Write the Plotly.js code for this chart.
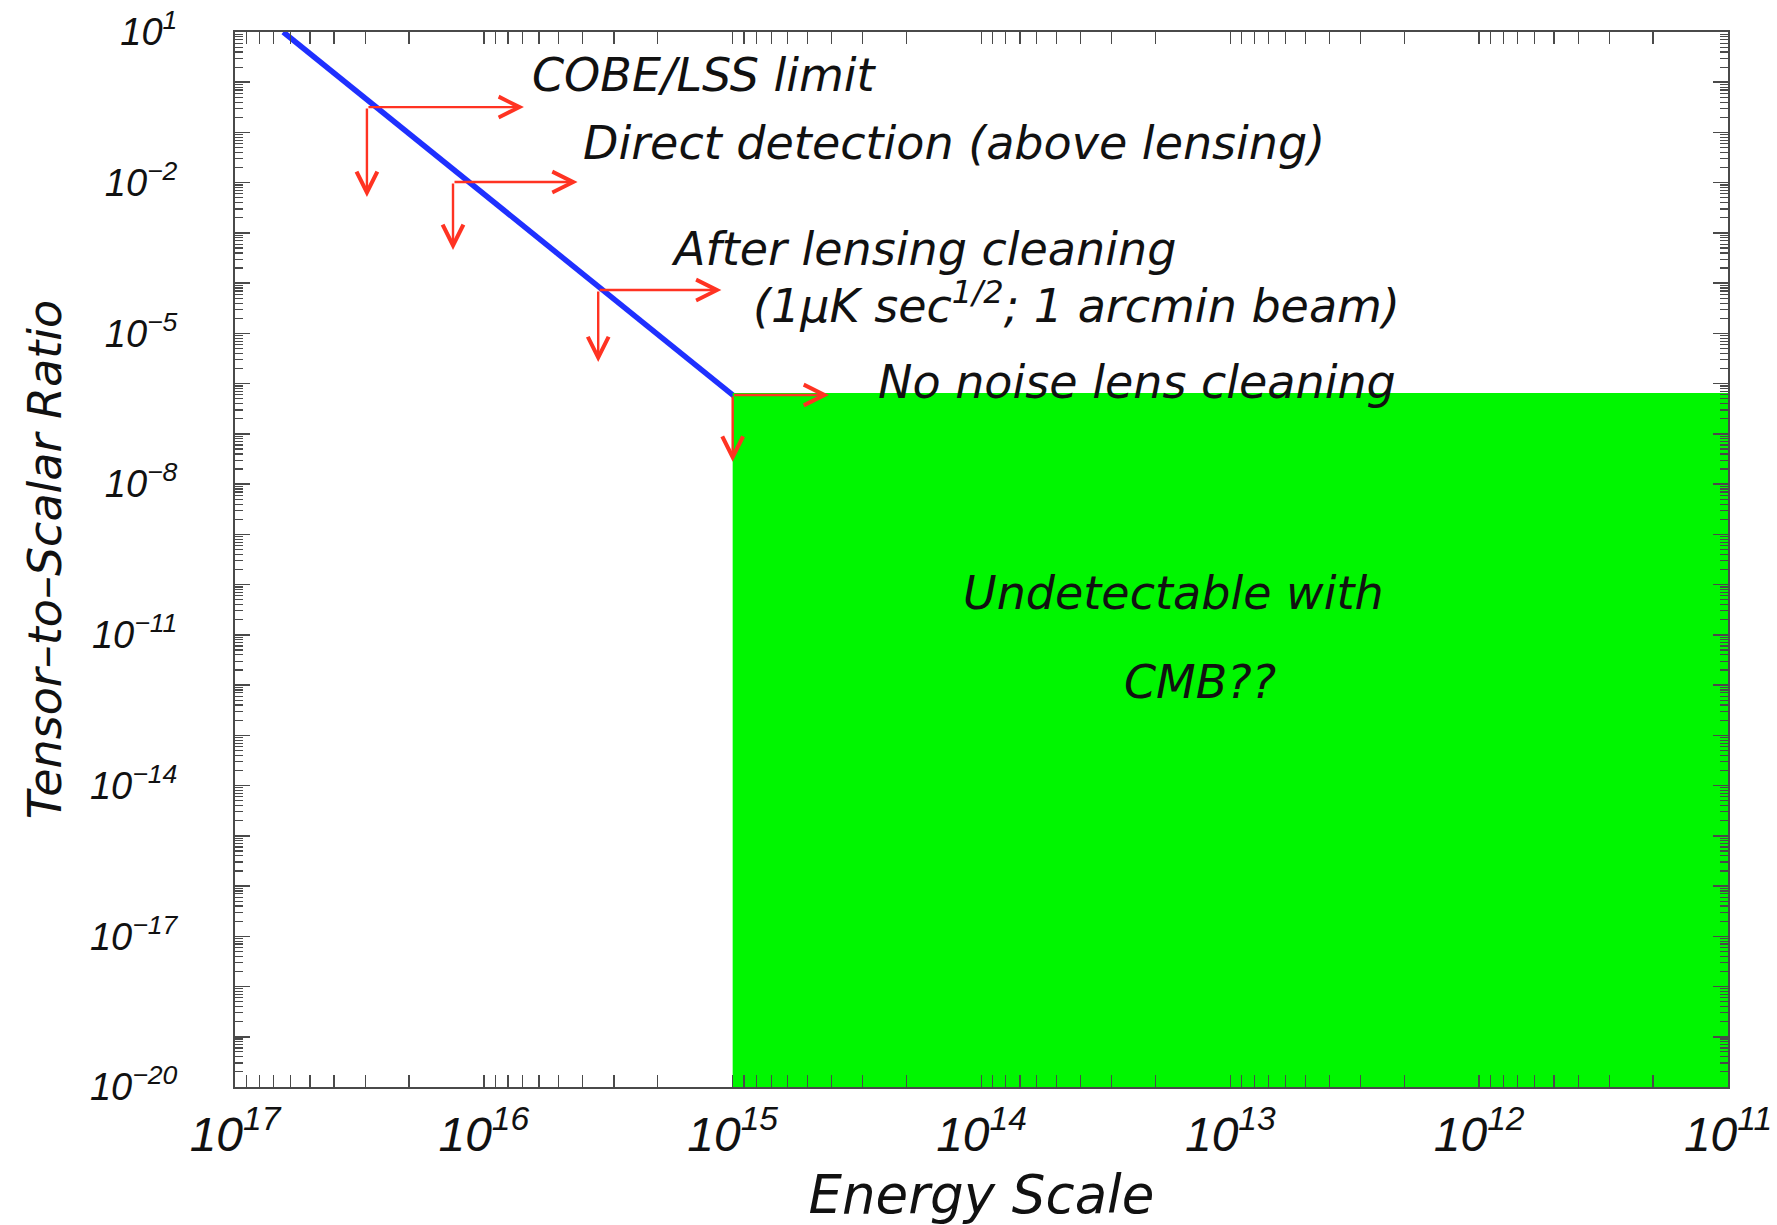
<!DOCTYPE html>
<html>
<head>
<meta charset="utf-8">
<script src="https://cdn.plot.ly/plotly-3.0.1.min.js"></script>
<style>html,body{margin:0;padding:0;background:#fff;}#chart{width:1777px;height:1225px;}</style>
</head>
<body>
<div id="chart"></div>
<script>
// ---- data ----
// tensor-to-scalar ratio line (r proportional to E^4)
const lineEnergy = [6.4e16, 1e15, 3.6e11];
const lineRatio  = [10, 5.96e-7, 1e-20];

// "undetectable with CMB" region
const regionEnergy = [1e15, 1e11, 1e11, 1e15];
const regionRatio  = [1e-20, 1e-20, 6.5e-7, 6.5e-7];

// arrow markers: corner point, tip of the right arrow, tip of the down arrow
const arrowCornerEnergy = [2.95e16, 1.33e16, 3.47e15, 1e15];
const arrowCornerRatio  = [0.32, 1.03e-2, 7.3e-5, 5.96e-7];
const arrowRightEnergy  = [6.9e15, 4.2e15, 1.11e15, 4.1e14];
const arrowDownRatio    = [5.2e-3, 4.6e-4, 2.7e-6, 2.8e-8];

// text labels
const labelTexts = [
  "COBE/LSS limit",
  "Direct detection (above lensing)",
  "After lensing cleaning",
  "(1μK sec<sup>1/2</sup>; 1 arcmin beam)",
  "No noise lens cleaning",
  "Undetectable with",
  "CMB??"
];

// axis ticks
const xTickExponents = [17, 16, 15, 14, 13, 12, 11];
const yLabelExponents = [1, -2, -5, -8, -11, -14, -17, -20];

// ---- placement of the text labels (log10 data coordinates) ----
const labelPlacement = [
  {lx: 15.814, ly: 0.144},
  {lx: 15.609, ly: -1.209},
  {lx: 15.256, ly: -3.319},
  {lx: 14.926, ly: -4.40},
  {lx: 14.424, ly: -5.967},
  {lx: 14.082, ly: -10.166},
  {lx: 13.435, ly: -11.938}
];

// ---- build axis tick arrays ----
const yLabelVals = yLabelExponents.map(k => Math.pow(10, k));
const yLabelText = yLabelExponents.map(k => k < 0 ? "10<sup>\u2212" + (-k) + "</sup>" : "10<sup>" + k + "</sup>");
const yOtherDecades = [];
for (let k = -20; k <= 1; k++) if (!yLabelExponents.includes(k)) yOtherDecades.push(Math.pow(10, k));
const yMinor = [];
for (let k = -20; k < 1; k++) for (let m = 2; m <= 9; m++) yMinor.push(m * Math.pow(10, k));

const xDecades = xTickExponents.map(k => Math.pow(10, k));
const xTickText = xTickExponents.map(k => "10<sup>" + k + "</sup>");
const xMinor = [];
for (let k = 11; k < 17; k++) for (let m = 2; m <= 9; m++) xMinor.push(m * Math.pow(10, k));

const RED = "#ff3322";
const BLUE = "#1f30ff";
const GREEN = "#00f600";
const AXIS = "#4a4a4a";

const traces = [
  {
    x: lineEnergy, y: lineRatio, type: "scatter", mode: "lines",
    line: {color: BLUE, width: 5.5}, hoverinfo: "skip", name: "r(E)"
  },
  {
    x: regionEnergy, y: regionRatio, type: "scatter", mode: "lines", yaxis: "y2",
    fill: "toself", fillcolor: GREEN, line: {width: 0, color: GREEN},
    hoverinfo: "skip", name: "undetectable"
  }
];

const annotations = [];
const L = Math.log10;
for (let i = 0; i < arrowCornerEnergy.length; i++) {
  const common = {
    xref: "x", yref: "y", axref: "x", ayref: "y", text: "", showarrow: true,
    arrowhead: 5, arrowsize: 1.7, arrowwidth: 2.4, arrowcolor: RED, standoff: 0, startstandoff: 0
  };
  annotations.push(Object.assign({}, common, {
    x: L(arrowRightEnergy[i]), y: L(arrowCornerRatio[i]),
    ax: L(arrowCornerEnergy[i]), ay: L(arrowCornerRatio[i])
  }));
  annotations.push(Object.assign({}, common, {
    x: L(arrowCornerEnergy[i]), y: L(arrowDownRatio[i]),
    ax: L(arrowCornerEnergy[i]), ay: L(arrowCornerRatio[i])
  }));
}
labelTexts.forEach((t, i) => {
  annotations.push({
    xref: "x", yref: "y", x: labelPlacement[i].lx, y: labelPlacement[i].ly,
    xanchor: "left", yanchor: "middle", text: t, showarrow: false,
    font: {family: "DejaVu Sans", size: 46, style: "italic", color: "#111"}
  });
});

const tickFontX = {family: "Liberation Sans, Arial, sans-serif", size: 48, style: "italic", color: "#111"};
const tickFontY = {family: "Liberation Sans, Arial, sans-serif", size: 38, style: "italic", color: "#111"};

const layout = {
  width: 1777, height: 1225,
  margin: {l: 235, r: 49, t: 32, b: 138, pad: 0},
  paper_bgcolor: "#fff", plot_bgcolor: "#fff",
  showlegend: false,
  xaxis: {
    type: "log", range: [17, 11], autorange: false,
    tickmode: "array", tickvals: xDecades, ticktext: xTickText,
    ticks: "inside", ticklen: 12, tickwidth: 1.5, tickcolor: AXIS,
    mirror: "allticks", showline: true, linecolor: AXIS, linewidth: 2,
    showgrid: false, zeroline: false, tickfont: tickFontX, ticklabelstandoff: 4,
    minor: {tickvals: xMinor, ticks: "inside", ticklen: 7, tickwidth: 1.2, tickcolor: AXIS, showgrid: false},
    title: {text: "Energy Scale", standoff: 16,
      font: {family: "DejaVu Sans", size: 53, style: "italic", color: "#111"}},
    automargin: false
  },
  yaxis: {
    type: "log", range: [-20, 1], autorange: false,
    tickmode: "array", tickvals: yLabelVals, ticktext: yLabelText,
    ticks: "inside", ticklen: 15, tickwidth: 1.5, tickcolor: AXIS,
    mirror: "allticks", showline: true, linecolor: AXIS, linewidth: 2,
    showgrid: false, zeroline: false, tickfont: tickFontY, ticklabelstandoff: 48,
    minor: {tickvals: yMinor, ticks: "inside", ticklen: 8, tickwidth: 1.2, tickcolor: AXIS, showgrid: false},
    title: {text: "Tensor\u2013to\u2013Scalar Ratio", standoff: 14,
      font: {family: "DejaVu Sans", size: 46, style: "italic", color: "#111"}},
    automargin: false
  },
  yaxis2: {
    type: "log", range: [-20, 1], autorange: false, overlaying: "y", side: "left",
    tickmode: "array", tickvals: yOtherDecades, showticklabels: false,
    ticks: "inside", ticklen: 15, tickwidth: 1.5, tickcolor: AXIS,
    mirror: "allticks", showline: false, showgrid: false, zeroline: false
  },
  annotations: annotations
};

Plotly.newPlot("chart", traces, layout, {displayModeBar: false, staticPlot: true});
</script>
</body>
</html>
